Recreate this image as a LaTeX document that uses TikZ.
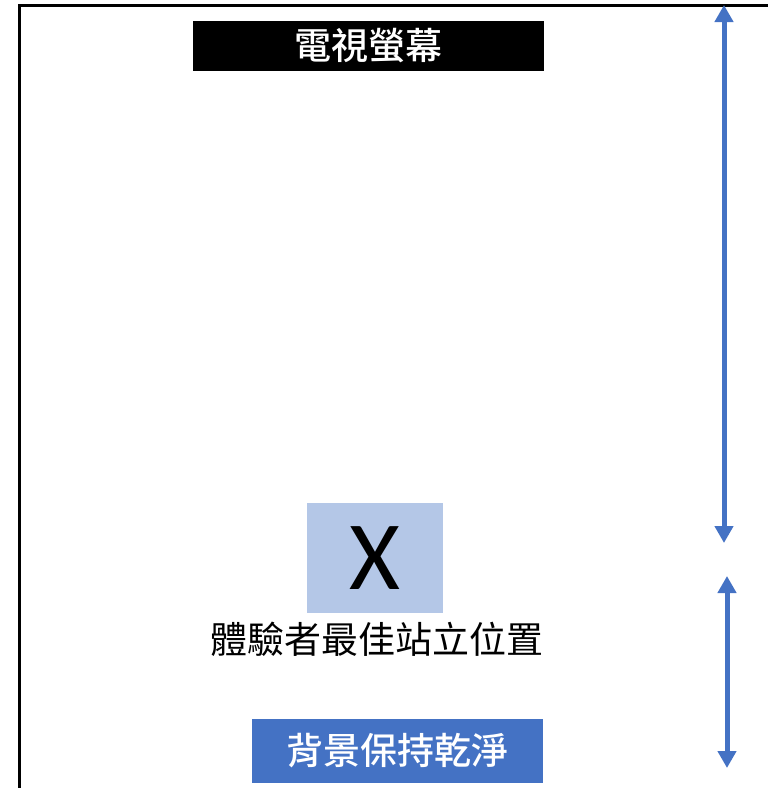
\documentclass[tikz,border=0pt]{standalone}
\usepackage{fontspec}
\newfontfamily\cjk{Noto Sans CJK TC}
\newfontfamily\cjkmed{Noto Sans CJK TC Medium}
\newfontfamily\xfont{Carlito}
\usetikzlibrary{arrows.meta}
\definecolor{arrowblue}{HTML}{4472C4}
\definecolor{spotblue}{HTML}{B4C7E7}
\begin{document}
\begin{tikzpicture}[x=1pt,y=-1pt,%
% common options for the labelled boxes:
banner/.style = {rectangle, align=center, inner sep=0, text=white,
            font=\cjkmed\fontsize{37}{40}\selectfont},
% common options for the distance arrows:
span/.style = {draw=arrowblue, line width=5pt,
            {Triangle[width=18pt,length=17pt]}-{Triangle[width=18pt,length=17pt]}}]
\useasboundingbox (0,0) rectangle (768,788);
% room outline
\draw[line width=3pt] (19,790) -- (19,5) -- (770,5);
\node[banner, fill=black, minimum width=351pt, minimum height=50pt] (tv) at (368.5,46) {電視螢幕};
\node[rectangle, fill=spotblue, minimum width=136pt, minimum height=110pt, inner sep=0,
      font=\xfont\fontsize{98}{100}\selectfont] (spot) at (375,558) {X};
\node[rectangle, inner sep=0, font=\cjk\fontsize{37}{40}\selectfont] (spotlabel) at (376.5,639) {體驗者最佳站立位置};
\node[banner, fill=arrowblue, minimum width=291pt, minimum height=64pt] (bg) at (397.5,751) {背景保持乾淨};
\coordinate (d1top) at (724,5);
\coordinate (d1bot) at (724,543);
\coordinate (d2top) at (727,576);
\coordinate (d2bot) at (727,768);
\draw[span] (d1top) -- (d1bot);
\draw[span] (d2top) -- (d2bot);
\end{tikzpicture}
\end{document}
